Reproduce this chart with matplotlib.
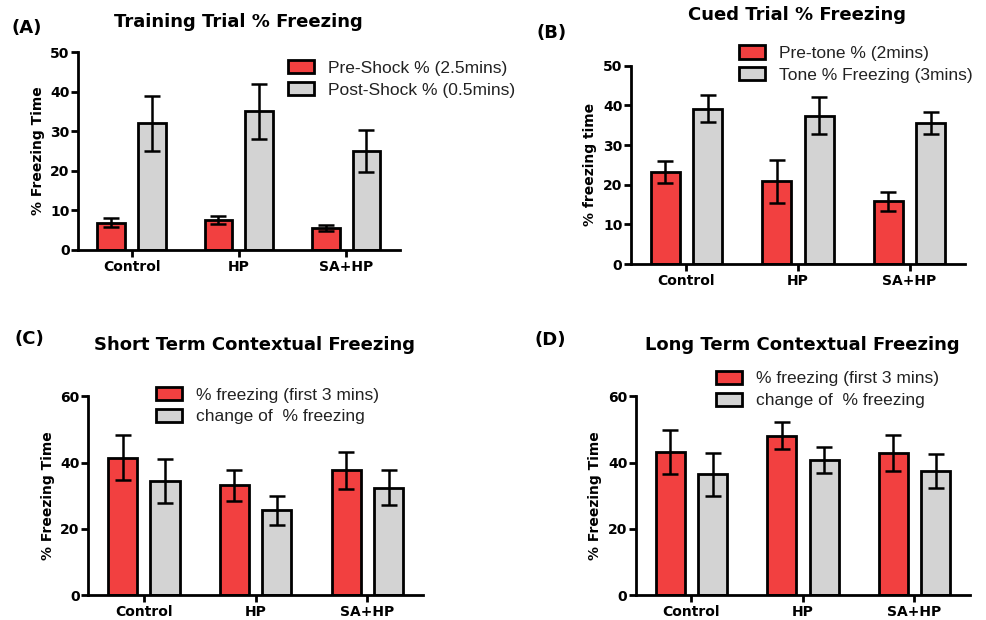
import numpy as np
import matplotlib
matplotlib.use("Agg")
import matplotlib.pyplot as plt
from matplotlib.patches import Patch

plt.rcParams['font.family'] = ['Liberation Sans', 'DejaVu Sans']

groups = ["Control", "HP", "SA+HP"]

# (A) training trial
a_pre = [6.9, 7.5, 5.5]
a_pre_err = [1.2, 1.0, 0.8]
a_post = [32.0, 35.0, 25.0]
a_post_err = [7.0, 7.0, 5.3]

# (B) cued trial
b_pre = [23.3, 20.9, 15.8]
b_pre_err = [2.8, 5.4, 2.3]
b_tone = [39.2, 37.4, 35.5]
b_tone_err = [3.5, 4.7, 2.8]

# (C) short term contextual
c_first = [41.4, 33.1, 37.6]
c_first_err = [6.8, 4.6, 5.6]
c_change = [34.4, 25.6, 32.4]
c_change_err = [6.7, 4.4, 5.3]

# (D) long term contextual
d_first = [43.2, 48.1, 42.9]
d_first_err = [6.7, 4.0, 5.4]
d_change = [36.4, 40.7, 37.5]
d_change_err = [6.6, 3.9, 5.1]

red = "#f24040"
grey = "#d3d3d3"
bold_font = "DejaVu Sans"

fig = plt.figure(figsize=(9.87, 6.2), dpi=100)


def panel(rect, v1, e1, v2, e2, ymax, ystep, ylabel, labels, leg_xy):
    ax = fig.add_axes(rect)
    x = np.arange(len(groups))
    w = 0.26
    off = 0.19
    ax.bar(x - off, v1, w, color=red, edgecolor="black", linewidth=2, zorder=2)
    ax.bar(x + off, v2, w, color=grey, edgecolor="black", linewidth=2, zorder=2)
    ax.errorbar(x - off, v1, yerr=e1, fmt="none", ecolor="black", elinewidth=1.8,
                capsize=6, capthick=1.8, zorder=3)
    ax.errorbar(x + off, v2, yerr=e2, fmt="none", ecolor="black", elinewidth=1.8,
                capsize=6, capthick=1.8, zorder=3)
    ax.set_xlim(-0.5, 2.5)
    ax.set_ylim(0, ymax)
    ax.set_yticks(np.arange(0, ymax + 1, ystep))
    ax.set_xticks(x)
    ax.set_xticklabels(groups, fontsize=10, fontweight="bold", family=bold_font)
    for t in ax.get_yticklabels():
        t.set_fontsize(10)
        t.set_fontweight("bold")
        t.set_family(bold_font)
    ax.spines["top"].set_visible(False)
    ax.spines["right"].set_visible(False)
    ax.spines["left"].set_linewidth(2)
    ax.spines["bottom"].set_linewidth(2)
    ax.tick_params(axis="y", width=2, length=5, pad=1)
    ax.tick_params(axis="x", width=2, length=5, pad=2)
    ax.set_ylabel(ylabel, fontsize=10, fontweight="bold", family=bold_font)
    handles = [Patch(facecolor=red, edgecolor="black", linewidth=2),
               Patch(facecolor=grey, edgecolor="black", linewidth=2)]
    ax.legend(handles, labels, loc="upper left", bbox_to_anchor=leg_xy,
              bbox_transform=fig.transFigure, frameon=False, fontsize=12.5,
              labelcolor="#222222",
              handlelength=1.5, handleheight=0.8, handletextpad=0.8,
              labelspacing=0.35, borderpad=0, borderaxespad=0)
    return ax


panel([0.079, 0.597, 0.326, 0.319], a_pre, a_pre_err, a_post, a_post_err, 50, 10,
      "% Freezing Time", ["Pre-Shock % (2.5mins)", "Post-Shock % (0.5mins)"],
      (0.292, 0.903))
panel([0.639, 0.574, 0.339, 0.320], b_pre, b_pre_err, b_tone, b_tone_err, 50, 10,
      "% freezing time", ["Pre-tone % (2mins)", "Tone % Freezing (3mins)"],
      (0.749, 0.927))
panel([0.089, 0.040, 0.340, 0.321], c_first, c_first_err, c_change, c_change_err, 60, 20,
      "% Freezing Time", ["% freezing (first 3 mins)", "change of  % freezing"],
      (0.158, 0.376))
panel([0.644, 0.040, 0.339, 0.321], d_first, d_first_err, d_change, d_change_err, 60, 20,
      "% Freezing Time", ["% freezing (first 3 mins)", "change of  % freezing"],
      (0.725, 0.402))

for x, y, s in [(238, 22, "Training Trial % Freezing"),
                (797, 15, "Cued Trial % Freezing"),
                (255, 345, "Short Term Contextual Freezing"),
                (802, 345, "Long Term Contextual Freezing")]:
    fig.text(x / 987, 1 - y / 620, s, ha="center", va="center",
             fontsize=13, fontweight="bold", family=bold_font)

for x, y, s in [(12, 28, "(A)"), (536, 33, "(B)"), (15, 339, "(C)"), (535, 340, "(D)")]:
    fig.text(x / 987, 1 - y / 620, s, ha="left", va="center",
             fontsize=13, fontweight="bold", family=bold_font)

fig.savefig("out.png", dpi=100)
